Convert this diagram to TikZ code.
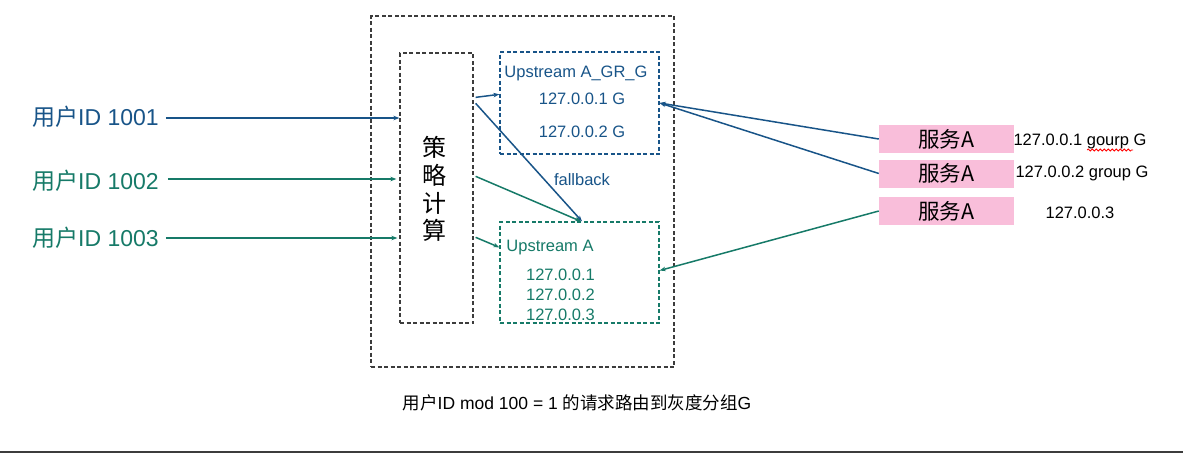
\documentclass[tikz,border=0pt]{standalone}
\usepackage{fontspec}
\setmainfont{Liberation Sans}
\newfontfamily\cjk{Noto Sans CJK SC}
\usetikzlibrary{arrows.meta,decorations.pathmorphing}
\definecolor{cblue}{RGB}{24,84,136}
\definecolor{cgreen}{RGB}{22,122,104}
\definecolor{cgray}{RGB}{60,60,60}
\definecolor{cpink}{RGB}{249,190,218}
\newcommand{\fs}[1]{\fontsize{#1}{#1}\selectfont}
\begin{document}
\begin{tikzpicture}[x=1pt,y=-1pt,
  dbox/.style={draw=#1,dash pattern=on 4pt off 2.5pt,line width=1.3pt,inner sep=0pt},
  pinkbox/.style={fill=cpink,minimum width=135pt,minimum height=28pt,inner sep=0pt},
  arr/.style={draw=#1,line width=1.5pt,-{Stealth[length=6pt,width=4.5pt]}},
  lab/.style={inner sep=0pt,text=#1},
]
\useasboundingbox (0,0) rectangle (1183,453);
% boxes
\node[dbox=cgray,minimum width=303pt,minimum height=351pt] (outer) at (522.5,191.5) {};
\node[dbox=cgray,minimum width=73pt,minimum height=270pt] (s) at (436.5,188) {};
\node[dbox=cblue,minimum width=159pt,minimum height=102pt] (ug) at (579.5,103) {};
\node[dbox=cgreen,minimum width=159pt,minimum height=101pt] (ua) at (579.5,272.5) {};
% strategy text
\node[lab=black,align=center,font=\cjk\fontsize{24}{27.7}\selectfont] (stxt) at (434,189) {策\\略\\计\\算};
% upstream texts
\node[lab=cblue,font=\fs{16.5}] (ugt) at (576,73) {Upstream A\_GR\_G};
\node[lab=cblue,font=\fs{16.5}] (ug1) at (582,99) {127.0.0.1 G};
\node[lab=cblue,font=\fs{16.5}] (ug2) at (582,132) {127.0.0.2 G};
\node[lab=cblue,font=\fs{16.5}] (fb) at (582,180) {fallback};
\node[lab=cgreen,font=\fs{16.5}] (uat) at (550,248) {Upstream A};
\node[lab=cgreen,font=\fs{16.5}] (ua1) at (560.5,275) {127.0.0.1};
\node[lab=cgreen,font=\fs{16.5}] (ua2) at (560.5,295) {127.0.0.2};
\node[lab=cgreen,font=\fs{16.5}] (ua3) at (560.5,315) {127.0.0.3};
% left labels
\node[lab=cblue,font=\fs{23}] (l1) at (95.5,117) {{\cjk 用户}ID 1001};
\node[lab=cgreen,font=\fs{23}] (l2) at (95.5,181) {{\cjk 用户}ID 1002};
\node[lab=cgreen,font=\fs{23}] (l3) at (95.5,238) {{\cjk 用户}ID 1003};
\draw[arr=cblue] ([xshift=7pt,yshift=-1pt]l1.east) -- (s.west |- 0,118);
\draw[arr=cgreen] ([xshift=9pt,yshift=2pt]l2.east) -- ([xshift=-3pt]s.west |- 0,179);
\draw[arr=cgreen] ([xshift=7pt]l3.east) -- ([xshift=-2pt]s.west |- 0,238);
% strategy to upstreams
\draw[arr=cblue] ([xshift=2pt,yshift=-45pt]s.north east) -- ([yshift=-43pt]ug.north west);
\draw[arr=cblue] ([xshift=2pt,yshift=-51pt]s.north east) -- ([xshift=2.5pt]ua.north);
\draw[arr=cgreen] ([xshift=2pt,yshift=-124pt]s.north east) -- ([xshift=1.5pt]ua.north);
\draw[arr=cgreen] ([xshift=2pt,yshift=-185pt]s.north east) -- ([yshift=-26pt]ua.north west);
% right service boxes
\node[pinkbox,font=\cjk\fs{21.5}] (p1) at (946.5,139) {服务A};
\node[pinkbox,font=\cjk\fs{21.5}] (p2) at (946.5,173.5) {服务A};
\node[pinkbox,font=\cjk\fs{21.5}] (p3) at (946.5,211) {服务A};
\node[lab=black,font=\fs{16.5}] (r1) at (1080,141) {127.0.0.1 gourp G};
\node[lab=black,font=\fs{16.5}] (r2) at (1082,173) {127.0.0.2 group G};
\node[lab=black,font=\fs{16.5}] (r3) at (1080,213) {127.0.0.3};
\coordinate (w1) at (1087,150);
\coordinate (w2) at (1133,150);
\draw[red,line width=0.8pt,decorate,decoration={snake,amplitude=1pt,segment length=4pt}] (w1) -- (w2);
\draw[arr=cblue] (p1.west) -- (ug.east);
\draw[arr=cblue] (p2.west) -- (ug.east);
\draw[arr=cgreen] (p3.west) -- ([yshift=2pt]ua.east);
% bottom caption
\node[lab=black,font=\fs{17.5}] (cap) at (577,403) {{\cjk 用户}ID mod 100 = 1 {\cjk 的请求路由到灰度分组}G};
\coordinate (bl) at (0,452);
\coordinate (br) at (1183,452);
\draw[cgray,line width=1.5pt] (bl) -- (br);
\end{tikzpicture}
\end{document}
